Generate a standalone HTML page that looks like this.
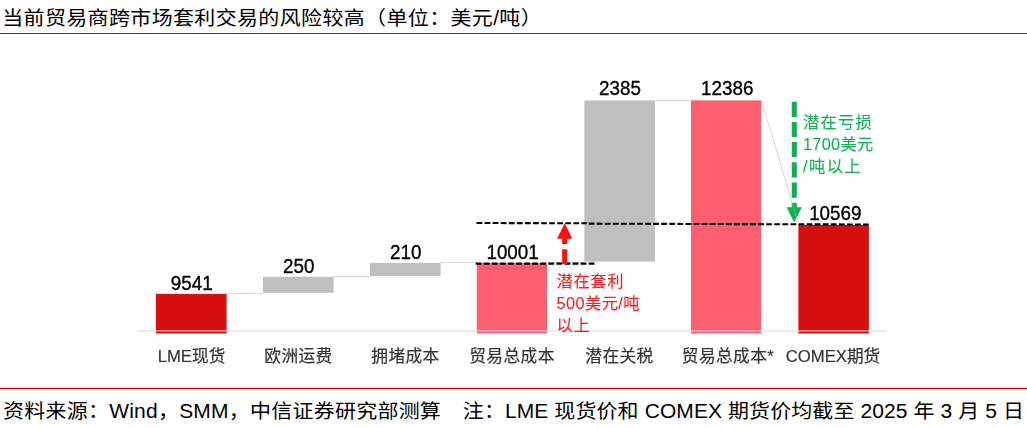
<!DOCTYPE html>
<html lang="zh-CN">
<head>
<meta charset="utf-8">
<title>当前贸易商跨市场套利交易的风险较高</title>
<style>
html,body{margin:0;padding:0;background:#fff;}
body{width:1027px;height:428px;overflow:hidden;position:relative;font-family:"Liberation Sans","Noto Sans CJK SC",sans-serif;}
svg{position:absolute;left:0;top:0;display:block;}
.chart{will-change:transform;}
text{font-family:"Liberation Sans","Noto Sans CJK SC",sans-serif;}
.t{font-size:21px;fill:#000;}
.v{font-size:19.6px;fill:#000;text-anchor:middle;stroke:#000;stroke-width:0.35px;}
.c{font-size:16.7px;fill:#333;text-anchor:middle;stroke:#333;stroke-width:0.2px;}
.r{font-size:16.3px;fill:#ff1a1a;stroke:#ff1a1a;stroke-width:0.08px;}
.g{font-size:16.3px;fill:#10b050;stroke:#10b050;stroke-width:0.08px;}
</style>
</head>
<body>
<svg width="1027" height="428" viewBox="0 0 1027 428">
  <!-- header / footer -->
  <text class="t" transform="translate(2.2,25.4) scale(1,0.93)" letter-spacing="0.36">当前贸易商跨市场套利交易的风险较高（单位：美元/吨）</text>
  <rect x="0" y="33" width="1027" height="1" fill="#c40000"/>
  <rect x="0" y="388" width="1027" height="1" fill="#c40000"/>
  <text class="t" transform="translate(3,417.6) scale(1,0.93)" letter-spacing="0.24">资料来源：Wind，SMM，中信证券研究部测算</text>
  <text class="t" transform="translate(462.8,417.6) scale(1,0.93)" letter-spacing="0.1">注：LME 现货价和 COMEX 期货价均截至 2025 年 3 月 5 日</text>
</svg>
<svg class="chart" width="1027" height="428" viewBox="0 0 1027 428">
  <!-- connectors -->
  <g stroke="#d9d9d9" stroke-width="1" fill="none">
    <line x1="226.5" y1="293.5" x2="263" y2="293.5"/>
    <line x1="333.5" y1="276.5" x2="370" y2="276.5"/>
    <line x1="440.5" y1="262.5" x2="477" y2="262.5"/>
    <line x1="547" y1="262.5" x2="584" y2="262.5"/>
    <line x1="654.5" y1="100.5" x2="691" y2="100.5"/>
  </g>

  <!-- bars -->
  <rect x="155.9" y="293.9" width="70.7" height="39.6" fill="#d7100f"/>
  <rect x="263" y="276.8" width="70.6" height="16" fill="#bfbfbf"/>
  <rect x="370" y="263" width="70.6" height="13.2" fill="#bfbfbf"/>
  <rect x="476.8" y="263" width="70.2" height="70.5" fill="#ff5f6e"/>
  <rect x="584.3" y="100.4" width="70.6" height="161.2" fill="#bfbfbf"/>
  <rect x="691" y="100.4" width="70.2" height="233.1" fill="#ff5f6e"/>
  <rect x="798.4" y="225" width="70.5" height="108.5" fill="#d7100f"/>

  <!-- axis -->
  <rect x="137.2" y="330.2" width="749.5" height="1.4" fill="#d9d9d9" fill-opacity="0.75"/>

  <!-- dashed lines -->
  <g stroke="#000" stroke-width="2.1" stroke-dasharray="5.8 2.27" fill="none">
    <line x1="476.5" y1="223.0" x2="586.8" y2="223.3"/>
    <line x1="588.7" y1="223.65" x2="868.7" y2="224.5"/>
    <line x1="475.7" y1="263.6" x2="594.5" y2="263.6"/>
  </g>

  <!-- red arrow -->
  <g>
    <line x1="564.7" y1="264" x2="564.7" y2="234" stroke="#ff0f0f" stroke-width="5.1" stroke-dasharray="14.7 5.2"/>
    <polygon points="564.7,223.3 572.4,238.7 557,238.7" fill="#ff0f0f"/>
  </g>
  <!-- green arrow -->
  <g>
    <line x1="761.5" y1="100.5" x2="798.4" y2="223.3" stroke="#d9d9d9" stroke-width="1"/>
    <line x1="794.3" y1="101.7" x2="794.3" y2="211" stroke="#10b050" stroke-width="5.1" stroke-dasharray="15.2 5"/>
    <polygon points="794.2,222.6 786.6,207.3 801.8,207.3" fill="#10b050"/>
    <line x1="761.5" y1="100.5" x2="798.4" y2="223.3" stroke="#d9d9d9" stroke-width="1" stroke-opacity="0.3"/>
  </g>

  <!-- values -->
  <text class="v" transform="translate(191.7,290.0) scale(0.96,1)">9541</text>
  <text class="v" transform="translate(298.8,273.0) scale(0.96,1)">250</text>
  <text class="v" transform="translate(405.8,259.0) scale(0.96,1)">210</text>
  <text class="v" transform="translate(512.6,259.0) scale(0.96,1)">10001</text>
  <text class="v" transform="translate(620.0,95.0) scale(0.96,1)">2385</text>
  <text class="v" transform="translate(727.2,95.0) scale(0.96,1)">12386</text>
  <text class="v" transform="translate(835.3,219.6) scale(0.96,1)">10569</text>

  <!-- categories -->
  <text class="c" x="191.5" y="361.7">LME现货</text>
  <text class="c" x="298.5" y="361.7" letter-spacing="0.4">欧洲运费</text>
  <text class="c" x="405.5" y="361.7" letter-spacing="0.4">拥堵成本</text>
  <text class="c" x="512" y="361.7" letter-spacing="0.4">贸易总成本</text>
  <text class="c" x="619.5" y="361.7" letter-spacing="0.4">潜在关税</text>
  <text class="c" x="728" y="361.7" letter-spacing="0.4">贸易总成本*</text>
  <text class="c" x="833" y="361.7">COMEX期货</text>

  <!-- annotations -->
  <text class="r" x="556.6" y="287" letter-spacing="0.6">潜在套利</text>
  <text class="r" x="556.6" y="309" letter-spacing="0.4">500美元/吨</text>
  <text class="r" x="556.6" y="331" letter-spacing="0.6">以上</text>

  <text class="g" x="803" y="128" letter-spacing="1.2">潜在亏损</text>
  <text class="g" x="803" y="150" letter-spacing="0.3">1700美元</text>
  <text class="g" x="803" y="172" letter-spacing="1.5">/吨以上</text>
</svg>
</body>
</html>
